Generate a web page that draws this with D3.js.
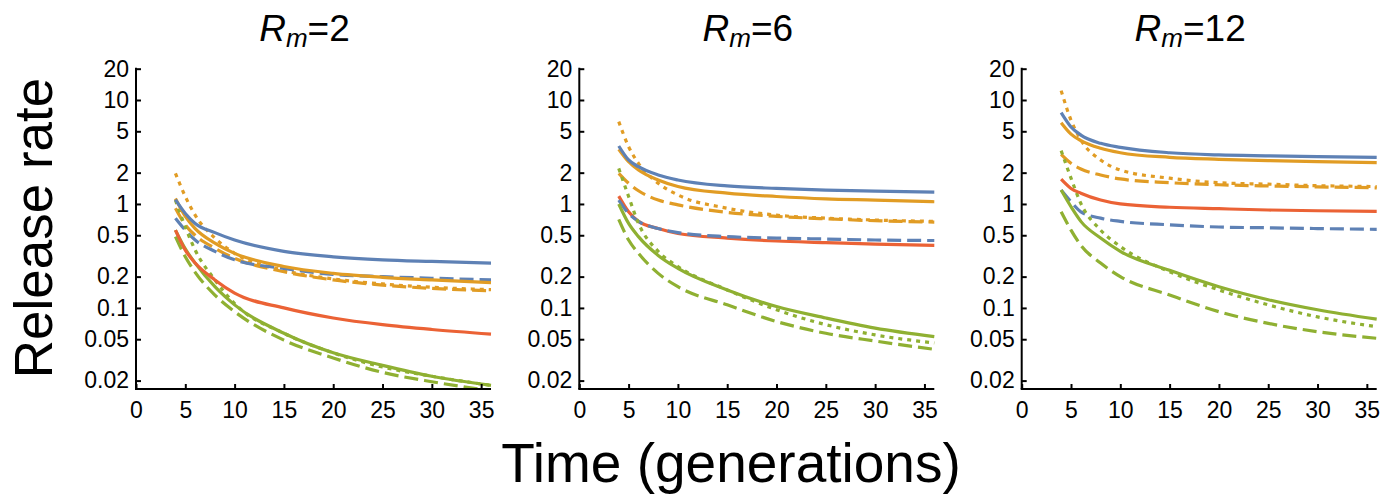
<!DOCTYPE html>
<html><head><meta charset="utf-8">
<script src="https://cdn.jsdelivr.net/npm/d3@7"></script>
<style>body{margin:0;background:#fff}svg{display:block}text{font-family:"Liberation Sans",Arial,sans-serif;fill:#000}</style>
</head><body><svg id="c" width="1391" height="501"></svg>
<script>
// time points (generations)
const times = [4, 5, 6, 8, 10, 15, 20, 25, 30, 36];
const panelTitles = ["2", "6", "12"];
const yTickValues = [0.02, 0.05, 0.1, 0.2, 0.5, 1, 2, 5, 10, 20];
const yTickLabels = ["0.02", "0.05", "0.1", "0.2", "0.5", "1", "2", "5", "10", "20"];
const xTickValues = [0, 5, 10, 15, 20, 25, 30, 35];

// Rm = 2
const rm2_blueSolid    = [1.10, 0.81, 0.65, 0.53, 0.45, 0.35, 0.31, 0.29, 0.28, 0.27];
const rm2_blueDashed   = [0.73, 0.56, 0.45, 0.35, 0.29, 0.24, 0.21, 0.20, 0.193, 0.186];
const rm2_orangeSolid  = [1.13, 0.76, 0.58, 0.42, 0.335, 0.25, 0.215, 0.197, 0.186, 0.175];
const rm2_orangeDashed = [0.91, 0.63, 0.50, 0.375, 0.30, 0.223, 0.186, 0.166, 0.154, 0.146];
const rm2_orangeDotted = [1.97, 1.18, 0.78, 0.47, 0.335, 0.23, 0.19, 0.17, 0.158, 0.15];
const rm2_redSolid     = [0.56, 0.36, 0.27, 0.186, 0.139, 0.10, 0.08, 0.069, 0.062, 0.056];
const rm2_greenSolid   = [0.56, 0.37, 0.27, 0.16, 0.107, 0.057, 0.037, 0.028, 0.022, 0.018];
const rm2_greenDashed  = [0.485, 0.31, 0.22, 0.133, 0.092, 0.049, 0.033, 0.024, 0.0195, 0.016];
const rm2_greenDotted  = [1.09, 0.60, 0.36, 0.186, 0.11, 0.057, 0.037, 0.027, 0.022, 0.018];

// Rm = 6
const rm6_blueSolid    = [3.61, 2.65, 2.28, 1.90, 1.70, 1.49, 1.41, 1.36, 1.33, 1.30];
const rm6_blueDashed   = [1.09, 0.81, 0.68, 0.58, 0.53, 0.485, 0.47, 0.46, 0.45, 0.445];
const rm6_orangeSolid  = [3.36, 2.55, 2.12, 1.70, 1.47, 1.27, 1.18, 1.12, 1.09, 1.05];
const rm6_orangeDashed = [1.97, 1.58, 1.34, 1.09, 0.98, 0.83, 0.76, 0.72, 0.69, 0.67];
const rm6_orangeDotted = [6.2, 3.56, 2.46, 1.58, 1.22, 0.91, 0.78, 0.73, 0.70, 0.68];
const rm6_redSolid     = [1.19, 0.84, 0.68, 0.58, 0.52, 0.47, 0.44, 0.425, 0.41, 0.40];
const rm6_greenSolid   = [1.0, 0.65, 0.485, 0.32, 0.24, 0.149, 0.103, 0.08, 0.064, 0.053];
const rm6_greenDashed  = [0.71, 0.45, 0.335, 0.215, 0.16, 0.107, 0.074, 0.057, 0.048, 0.040];
const rm6_greenDotted  = [2.2, 1.18, 0.65, 0.35, 0.25, 0.149, 0.096, 0.069, 0.055, 0.046];

// Rm = 12
const rm12_blueSolid    = [7.55, 5.5, 4.6, 3.83, 3.5, 3.11, 2.96, 2.90, 2.85, 2.81];
const rm12_blueDashed   = [1.36, 1.05, 0.84, 0.73, 0.68, 0.63, 0.60, 0.59, 0.58, 0.57];
const rm12_orangeSolid  = [6.05, 4.7, 4.07, 3.43, 3.11, 2.81, 2.69, 2.61, 2.55, 2.50];
const rm12_orangeDashed = [3.0, 2.46, 2.17, 1.90, 1.74, 1.60, 1.53, 1.49, 1.46, 1.43];
const rm12_orangeDotted = [12.3, 6.4, 4.12, 2.65, 2.12, 1.77, 1.60, 1.55, 1.50, 1.47];
const rm12_redSolid     = [1.73, 1.41, 1.27, 1.09, 1.0, 0.93, 0.90, 0.875, 0.86, 0.85];
const rm12_greenSolid   = [1.36, 0.94, 0.68, 0.47, 0.35, 0.23, 0.16, 0.12, 0.096, 0.078];
const rm12_greenDashed  = [0.84, 0.56, 0.40, 0.27, 0.20, 0.133, 0.092, 0.071, 0.059, 0.051];
const rm12_greenDotted  = [3.26, 1.77, 1.01, 0.56, 0.39, 0.223, 0.149, 0.107, 0.082, 0.066];

const seriesColors = {blue: "#5E81B5", orange: "#E19C24", red: "#EB6235", green: "#8FB032"};
const dashStyles = {solid: null, dashed: "14,6", dotted: "4,5"};

const panelSeries = [
  [["orangeDashed",rm2_orangeDashed],["orangeDotted",rm2_orangeDotted],["blueDashed",rm2_blueDashed],["greenDashed",rm2_greenDashed],["greenDotted",rm2_greenDotted],["greenSolid",rm2_greenSolid],["redSolid",rm2_redSolid],["orangeSolid",rm2_orangeSolid],["blueSolid",rm2_blueSolid]],
  [["orangeDashed",rm6_orangeDashed],["orangeDotted",rm6_orangeDotted],["redSolid",rm6_redSolid],["blueDashed",rm6_blueDashed],["greenDashed",rm6_greenDashed],["greenDotted",rm6_greenDotted],["greenSolid",rm6_greenSolid],["orangeSolid",rm6_orangeSolid],["blueSolid",rm6_blueSolid]],
  [["orangeDashed",rm12_orangeDashed],["orangeDotted",rm12_orangeDotted],["blueDashed",rm12_blueDashed],["greenDashed",rm12_greenDashed],["greenDotted",rm12_greenDotted],["greenSolid",rm12_greenSolid],["redSolid",rm12_redSolid],["orangeSolid",rm12_orangeSolid],["blueSolid",rm12_blueSolid]]
];

const svg = d3.select("#c");
const panelX0 = [136, 579.3, 1021.7];
const plotW = 355, yTop = 68.7, yBot = 389;

const y = d3.scaleLog().domain([0.0166, 20]).range([yBot, yTop]);

panelSeries.forEach((series, pi) => {
  const x = d3.scaleLinear().domain([0, 36]).range([panelX0[pi], panelX0[pi] + plotW]);
  const g = svg.append("g");
  const clipId = "clip" + pi;
  svg.append("clipPath").attr("id", clipId).append("rect")
    .attr("x", panelX0[pi]).attr("y", yTop - 10).attr("width", plotW + 2).attr("height", yBot - yTop + 10);

  const line = d3.line().x((d, i) => x(times[i])).y(d => y(d)).curve(d3.curveMonotoneX);
  const lg = g.append("g").attr("clip-path", `url(#${clipId})`);
  series.forEach(([name, vals]) => {
    const col = name.match(/^(blue|orange|red|green)/)[1];
    const sty = name.replace(col, "").toLowerCase();
    lg.append("path").datum(vals).attr("d", line)
      .attr("fill", "none").attr("stroke", seriesColors[col]).attr("stroke-width", 3.2)
      .attr("stroke-dasharray", dashStyles[sty]);
  });

  // axes
  const xa = g.append("g").attr("transform", `translate(0,${yBot})`)
    .call(d3.axisBottom(x).tickValues(xTickValues).tickSizeInner(-5).tickSizeOuter(0).tickPadding(13));
  const ya = g.append("g").attr("transform", `translate(${panelX0[pi]},0)`)
    .call(d3.axisLeft(y).tickValues(yTickValues).tickFormat((d, i) => yTickLabels[i]).tickSizeInner(-5).tickSizeOuter(0).tickPadding(7));
  [xa, ya].forEach(a => {
    a.select(".domain").attr("stroke", "#000").attr("stroke-width", 2);
    a.selectAll(".tick line").attr("stroke", "#000").attr("stroke-width", 2);
    a.selectAll("text").attr("font-size", 23).attr("font-family", '"Liberation Sans",Arial,sans-serif').attr("fill", "#000");
  });
  ya.select(".domain").attr("d", `M0,${yBot}V${yTop - 1}`);
  xa.select(".domain").attr("d", `M${panelX0[pi] - 1},0H${panelX0[pi] + plotW}`);

  // title
  const t = g.append("text").attr("x", panelX0[pi] + plotW / 2 - 9).attr("y", 41)
    .attr("text-anchor", "middle").attr("font-size", 37);
  t.append("tspan").attr("font-style", "italic").text("R");
  t.append("tspan").attr("font-style", "italic").attr("font-size", 26).attr("dy", 6).text("m");
  t.append("tspan").attr("dy", -6).text("=" + panelTitles[pi]);
});

svg.append("text").attr("transform", "translate(52,228) rotate(-90)")
  .attr("text-anchor", "middle").attr("font-size", 53).text("Release rate");
svg.append("text").attr("x", 731).attr("y", 482)
  .attr("text-anchor", "middle").attr("font-size", 55).text("Time (generations)");
</script></body></html>
